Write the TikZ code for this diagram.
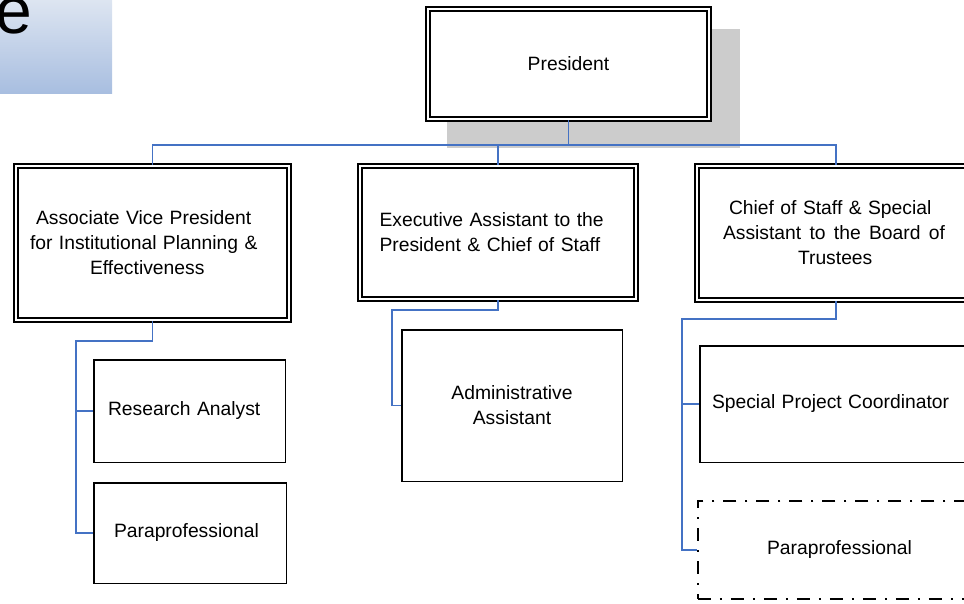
\documentclass[tikz,border=0pt]{standalone}
\usepackage{fontspec}
\setmainfont{Liberation Sans}
\usetikzlibrary{calc}

\definecolor{linkblue}{RGB}{68,114,196}
\definecolor{shadowgray}{RGB}{204,204,204}
\definecolor{fadetop}{RGB}{221,229,241}
\definecolor{fadebottom}{RGB}{168,190,224}

\begin{document}
\begin{tikzpicture}[x=1pt,y=-1pt,
    txt/.style={font=\fontsize{19.3}{25}\selectfont},
    dbl/.style={txt,draw,double,line width=1.8pt,double distance=2pt,align=center},
    box/.style={txt,draw,line width=1.5pt,align=center},
    link/.style={draw=linkblue,line width=1.5pt}]
  \useasboundingbox (0,0) rectangle (964,603);
  % corner of the slide title
  \shade[top color=fadetop,bottom color=fadebottom] (0,0) rectangle (112,93);
  \node[anchor=base west,inner sep=0pt,font=\fontsize{66}{66}\selectfont] (ttl) at (-5,33) {e};
  % shadow behind the top box
  \fill[shadowgray] (447,29) rectangle (740,148);
  \node[dbl,fill=white,minimum width=281.4,minimum height=110.4] (pres) at (568.5,64) {President};
  \node[dbl,align=left,text width=245,inner xsep=14.2,minimum width=273.4,minimum height=154.4] (avp) at (152.5,243)
    {\hspace*{6pt}Associate Vice President\\for Institutional Planning \&\\\hspace*{60pt}Effectiveness};
  \node[dbl,align=left,text width=237,inner xsep=19.7,minimum width=276.4,minimum height=133.4] (exa) at (498,232.5)
    {Executive Assistant to the\\President \& Chief of Staff};
  \node[dbl,align=left,text width=226,inner xsep=26.2,minimum width=278.4,minimum height=134.4] (cos) at (836,233)
    {\hspace*{6pt}Chief of Staff \& Special\\\makebox[222pt][s]{Assistant\hfill to\hfill the\hfill Board\hfill of}\\\hspace*{75pt}Trustees};
  \node[box,align=left,text width=163,inner xsep=14.25,minimum width=191.5,minimum height=102.5] (ra) at (189.5,411)
    {Research Analyst};
  \node[box,align=left,text width=152,inner xsep=20.25,minimum width=192.5,minimum height=100.5] (pp1) at (190,533)
    {Paraprofessional};
  \node[box,minimum width=220.5,minimum height=151.5] (adm) at (512,405.5) {Administrative\\Assistant};
  \node[box,align=left,text width=255,inner xsep=12.25,minimum width=279.5,minimum height=116.5] (spc) at (839.5,404)
    {Special Project Coordinator};
  % vacant post
  \node[box,line width=2pt,dash pattern=on 13pt off 9pt on 2pt off 9pt,minimum width=283.5,minimum height=98.5] (pp2) at (839.5,550)
    {Paraprofessional};
  % reporting lines
  \coordinate (bus) at (0,145);
  \coordinate (avpx) at (76,341);
  \coordinate (exax) at (392,310);
  \coordinate (cosx) at (682,319);
  \draw[link] (pres.south) -- (pres.south |- bus);
  \draw[link] (avp.north) |- (cos.north |- bus) -- (cos.north);
  \draw[link] (exa.north) -- (exa.north |- bus);
  \draw[link] (avp.south) |- (avpx) |- (pp1.west);
  \draw[link] (avpx) |- (ra.west);
  \draw[link] (exa.south) |- (exax) |- (adm.west);
  \draw[link] (cos.south) |- (cosx) |- (pp2.west);
  \draw[link] (cosx) |- (spc.west);
\end{tikzpicture}
\end{document}
